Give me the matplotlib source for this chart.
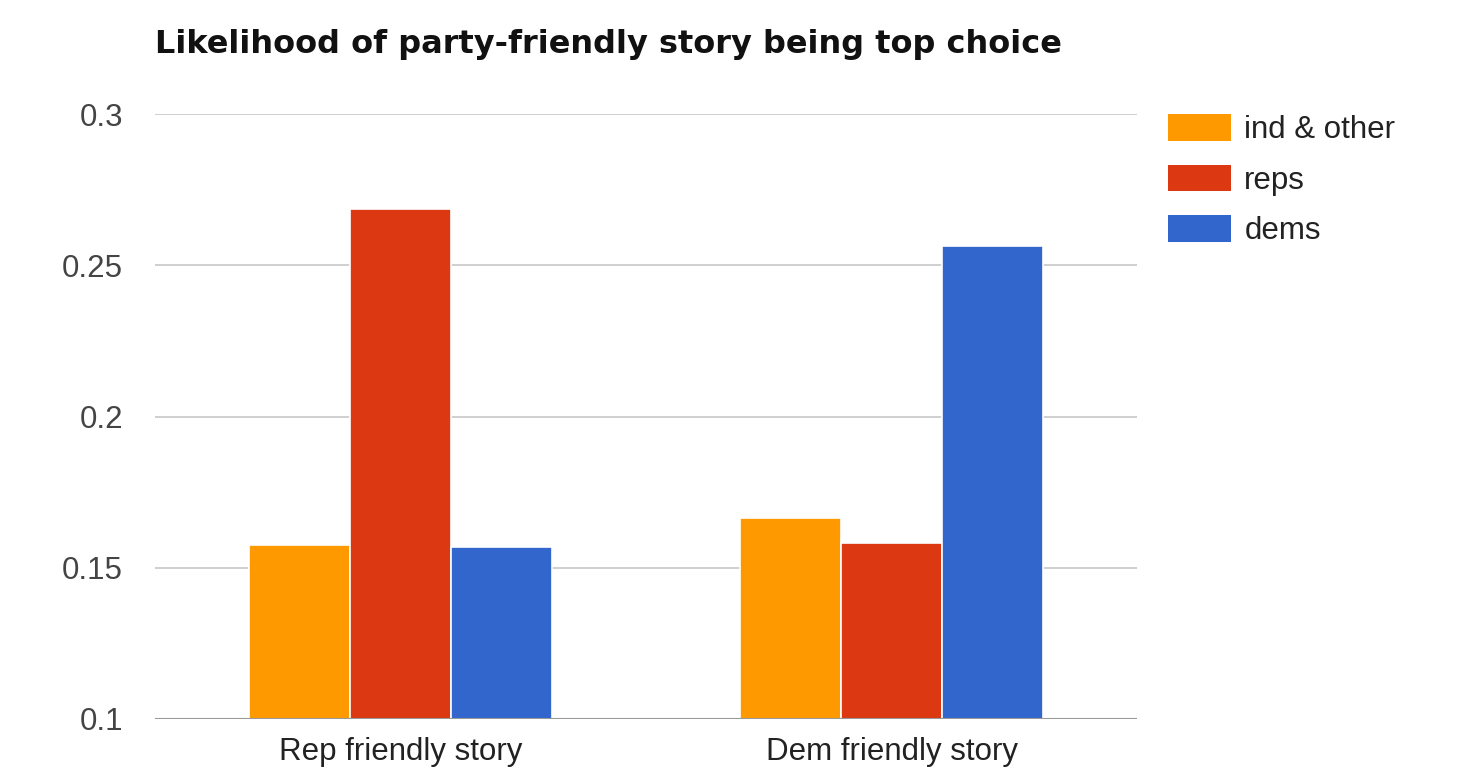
import matplotlib
matplotlib.use("Agg")
import matplotlib.pyplot as plt
from matplotlib.patches import Patch
import numpy as np

# values
stories = ["Rep friendly story", "Dem friendly story"]
groups = ["ind & other", "reps", "dems"]
ind_other = [0.1574, 0.1663]
reps = [0.2686, 0.1581]
dems = [0.1568, 0.2564]
colors = ["#FF9900", "#DC3912", "#3366CC"]

plt.rcParams["font.family"] = ["Liberation Sans", "DejaVu Sans"]

fig = plt.figure(figsize=(14.6, 7.7), dpi=100)
ax = fig.add_axes([155/1460, 1 - 719/770, (1137 - 155)/1460, (719 - 114)/770])

x = np.arange(len(stories))
w = 0.206
for i, (vals, c) in enumerate(zip([ind_other, reps, dems], colors)):
    ax.bar(x + (i - 1) * w, np.array(vals) - 0.1, width=w, bottom=0.1,
           color=c, edgecolor="white", linewidth=1.2, zorder=3)

ax.set_xlim(-0.5, 1.5)
ax.set_ylim(0.1, 0.3)
ax.set_yticks([0.1, 0.15, 0.2, 0.25, 0.3])
ax.set_yticklabels(["0.1", "0.15", "0.2", "0.25", "0.3"])
ax.set_xticks(x)
ax.set_xticklabels(stories)
ax.yaxis.grid(True, color="#cccccc", linewidth=1.3, zorder=0)
ax.axhline(0.1, color="#999999", linewidth=1.5, zorder=4)
for s in ax.spines.values():
    s.set_visible(False)
ax.tick_params(axis="y", length=0, pad=23, labelsize=22.5, labelcolor="#444444")
ax.tick_params(axis="x", length=0, pad=13, labelsize=22.5, labelcolor="#222222")

fig.text(155/1460, 1 - 45/770, "Likelihood of party-friendly story being top choice",
         fontsize=23, fontweight="bold", family="DejaVu Sans", color="#111111",
         va="center", ha="left")

handles = [Patch(facecolor=c, edgecolor="none") for c in colors]
fig.legend(handles, groups, loc="upper left",
           bbox_to_anchor=(1168/1460, 1 - 114/770), frameon=False,
           fontsize=22.5, handlelength=2.0, handleheight=0.94,
           handletextpad=0.44, labelspacing=0.62, borderpad=0, borderaxespad=0,
           labelcolor="#222222")

fig.savefig("out.png", dpi=100)
